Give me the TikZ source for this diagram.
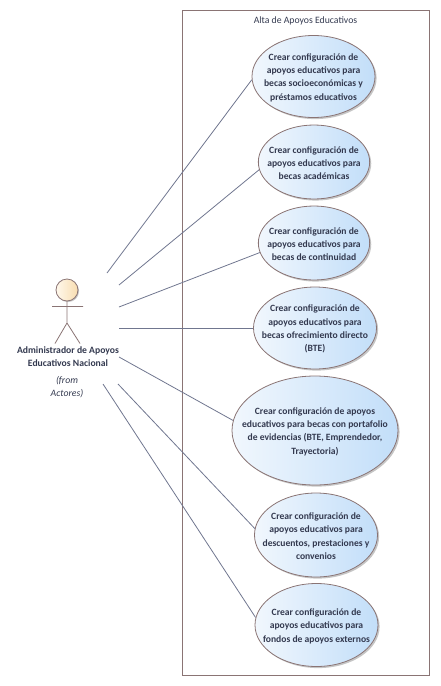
\documentclass[tikz,border=0pt]{standalone}
\usepackage{fontspec}
\setmainfont{Carlito}
\usetikzlibrary{shapes.geometric,shadows}
\definecolor{edge}{HTML}{8A7474}
\definecolor{conn}{HTML}{70768F}
\definecolor{ink}{HTML}{33394F}
\definecolor{ucpale}{HTML}{F1F7FD}
\definecolor{ucblue}{HTML}{C2DEF9}
\definecolor{headl}{HTML}{FFF8EC}
\definecolor{headr}{HTML}{F8DDB0}
\newcommand{\lowerline}{\rule{0pt}{6.8pt}}
\tikzset{
  usecase/.style={ellipse,draw=edge,line width=0.6pt,inner xsep=-14pt,inner ysep=-8pt,align=center,
    left color=ucpale,right color=ucblue,
    text=ink,font=\fontsize{7.2}{10}\selectfont\bfseries,
    drop shadow={shadow xshift=1.2pt,shadow yshift=-1.2pt,fill=black!45,opacity=.5}},
  bigcase/.style={usecase,minimum width=92.25pt,minimum height=61.5pt},
  smallcase/.style={usecase,minimum width=83.5pt,minimum height=55.5pt},
  link/.style={draw=conn,line width=0.6pt},
  stick/.style={draw=edge,line width=0.6pt},
  txt/.style={text=ink,align=center,inner sep=0pt}
}
\begin{document}
\begin{tikzpicture}[x=0.75pt,y=-0.75pt]
\useasboundingbox (0,0) rectangle (440,686);
\node[draw=edge,line width=0.6pt,minimum width=185.25pt,minimum height=498.75pt,inner sep=0pt] (frame) at (305.5,342.5) {};
\node[txt,font=\fontsize{7.3}{9}\selectfont] (title) at (305.5,20.5) {Alta de Apoyos Educativos};

\node[bigcase] (e1) at (313.5,76.5) {\lowerline Crear configuración de\\apoyos educativos para\\becas socioeconómicas y\\préstamos educativos};
\node[smallcase] (e2) at (314,162) {\lowerline Crear configuración de\\apoyos educativos para\\becas académicas};
\node[smallcase] (e3) at (314,243) {\lowerline Crear configuración de\\apoyos educativos para\\becas de continuidad};
\node[bigcase] (e4) at (315,328) {\lowerline Crear configuración de\\apoyos educativos para\\becas ofrecimiento directo\\(BTE)};
\node[usecase,minimum width=124.5pt,minimum height=81.75pt] (e5) at (315,430.5) {\lowerline Crear configuración de apoyos\\educativos para becas con portafolio\\de evidencias (BTE, Emprendedor,\\Trayectoria)};
\node[bigcase,minimum height=63pt] (e6) at (316,535) {\lowerline Crear configuración de\\apoyos educativos para\\descuentos, prestaciones y\\convenios};
\node[bigcase,minimum height=62.25pt] (e7) at (316.5,625) {\lowerline Crear configuración de\\apoyos educativos para\\fondos de apoyos externos};

\node[circle,draw=edge,line width=0.6pt,minimum width=16.5pt,inner sep=0pt,left color=headl,right color=headr,
  drop shadow={shadow xshift=.8pt,shadow yshift=-.8pt,fill=black!45,opacity=.5}] (head) at (67,290) {};
\coordinate (hip) at (67,323);
\coordinate (armL) at (52,306.5);
\coordinate (armR) at (83,306.5);
\coordinate (legL) at (55,343.5);
\coordinate (legR) at (80,343.5);
\draw[stick] (head) -- (hip) (armL) -- (armR) (legL) -- (hip) -- (legR);
\node[txt,font=\fontsize{7.25}{9.75}\selectfont\bfseries] (actor) at (68,356.5) {Administrador de Apoyos\\Educativos Nacional};
\node[txt,font=\fontsize{7.3}{9.75}\selectfont\itshape] (from) at (67,387.5) {(from\\Actores)};

\coordinate (a1) at (107,273);
\coordinate (a2) at (119,285);
\coordinate (a3) at (119,307);
\coordinate (a4) at (119,328);
\coordinate (a5) at (119,357);
\coordinate (a6) at (118,384);
\coordinate (a7) at (103,384);
\draw[link] (a1) -- (e1.183);
\draw[link] (a2) -- (e2.188);
\draw[link] (a3) -- (e3.190);
\draw[link] (a4) -- (e4.180);
\draw[link] (a5) -- (e5.173);
\draw[link] (a6) -- (e6.174);
\draw[link] (a7) -- (e7.173.5);
\end{tikzpicture}
\end{document}
